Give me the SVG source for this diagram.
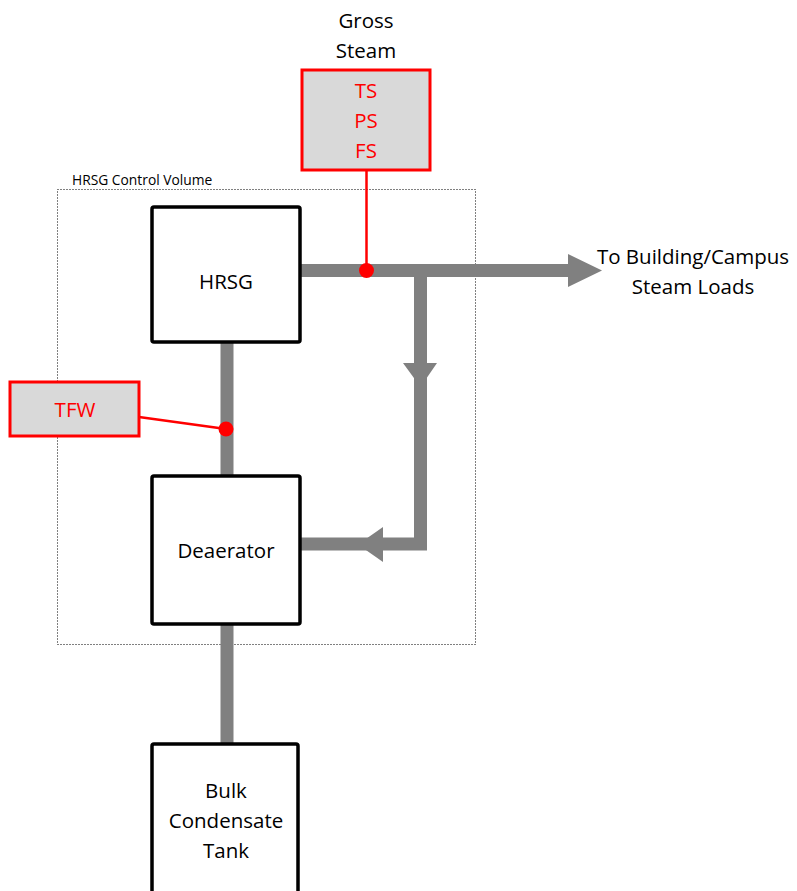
<svg xmlns="http://www.w3.org/2000/svg" width="797" height="891" viewBox="0 0 797 891">
<style>
text{font-family:"Open Sans","Liberation Sans",sans-serif;font-size:20.5px;fill:#000;text-anchor:middle}
.box{fill:#fff;stroke:#000;stroke-width:3.5}
.meas{fill:#d9d9d9;stroke:#f00;stroke-width:3}
.red{fill:#f00}
.pipe{stroke:#808080;stroke-width:13;fill:none}
.tap{stroke:#f00;stroke-width:2.5;fill:none}
.cv{fill:none;stroke:#000;stroke-width:1;stroke-dasharray:1 2}
</style>
<rect class="cv" x="57.5" y="189.5" width="418" height="455"/>
<text x="72" y="185" style="font-size:13.8px;text-anchor:start">HRSG Control Volume</text>
<g id="connectors">
<line class="pipe" x1="227" y1="340" x2="227" y2="478"/>
<line class="pipe" x1="227" y1="622" x2="227" y2="746"/>
<line class="pipe" x1="298" y1="270.5" x2="570" y2="270.5"/>
<polygon points="568,254 602,270.5 568,287" fill="#808080"/>
<polyline class="pipe" points="420.5,270 420.5,544 298,544"/>
<polygon points="403,363 437,363 420.5,387" fill="#808080"/>
<polygon points="383,527 383,562 358,544.5" fill="#808080"/>
<line class="tap" x1="366.5" y1="170" x2="366.5" y2="270"/>
<circle class="red" cx="366.5" cy="270.5" r="7.5"/>
<line class="tap" x1="139" y1="417" x2="226" y2="429"/>
<circle class="red" cx="226" cy="429" r="7.5"/>
</g>
<g id="gross-steam">
<text x="366" y="28">Gross</text>
<text x="366" y="58">Steam</text>
<rect class="meas" x="302" y="70" width="128" height="100"/>
<text x="366" y="98" style="fill:#f00">TS</text>
<text x="366" y="128" style="fill:#f00">PS</text>
<text x="366" y="158" style="fill:#f00">FS</text>
</g>
<g id="hrsg">
<rect class="box" x="152" y="207" width="148" height="135" rx="2"/>
<text x="226" y="289">HRSG</text>
</g>
<g id="tfw">
<rect class="meas" x="10" y="382" width="129" height="54"/>
<text x="75" y="417" style="fill:#f00">TFW</text>
</g>
<g id="deaerator">
<rect class="box" x="152" y="476" width="148" height="148" rx="2"/>
<text x="226" y="558">Deaerator</text>
</g>
<g id="bulk-tank">
<rect class="box" x="152" y="744" width="146" height="160" rx="2"/>
<text x="226" y="798">Bulk</text>
<text x="226" y="828">Condensate</text>
<text x="226" y="858">Tank</text>
</g>
<g id="steam-loads">
<text x="693" y="264">To Building/Campus</text>
<text x="693" y="294">Steam Loads</text>
</g>
</svg>
